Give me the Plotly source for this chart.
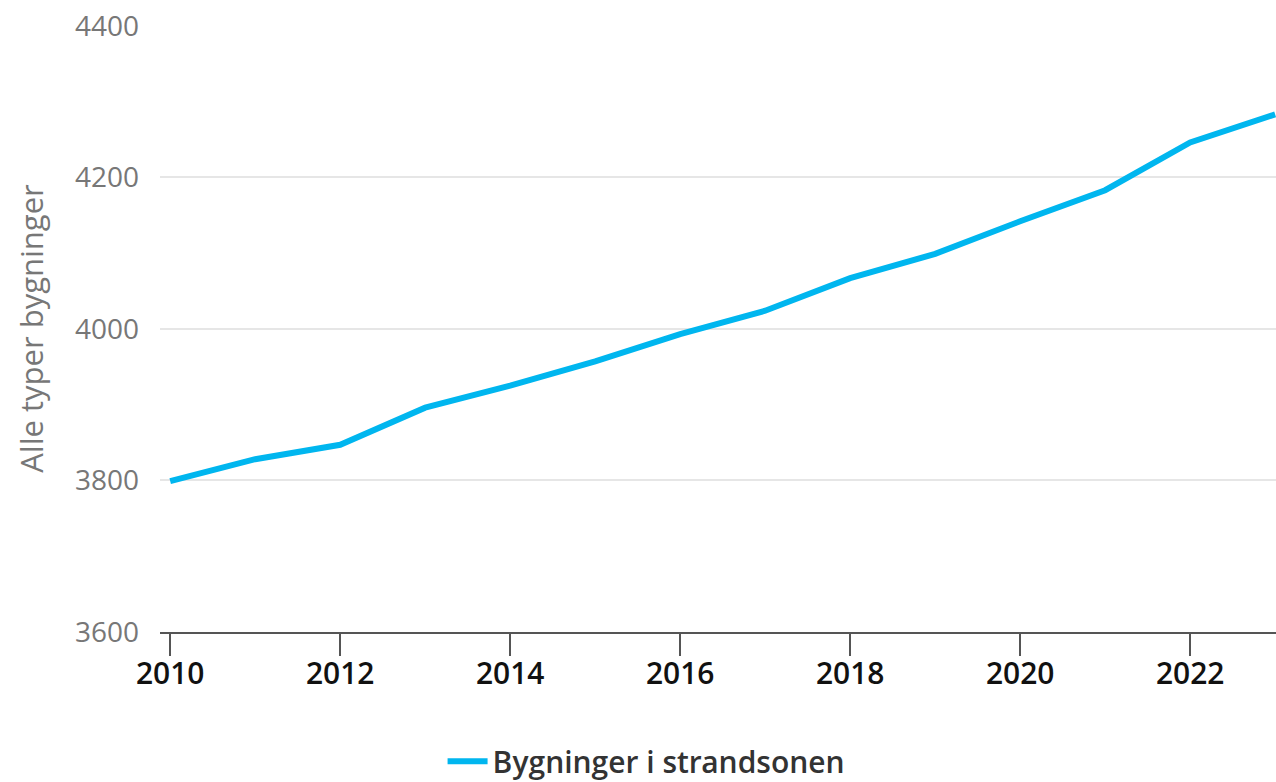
import plotly.graph_objects as go

years = [2010, 2011, 2012, 2013, 2014, 2015, 2016, 2017, 2018, 2019, 2020, 2021, 2022, 2023]
buildings = [3799, 3828, 3847, 3896, 3925, 3957, 3993, 4024, 4067, 4099, 4142, 4183, 4246, 4283]
series_name = "Bygninger i strandsonen"
y_title = "Alle typer bygninger"
y_ticks = [3600, 3800, 4000, 4200, 4400]
x_ticks = [2010, 2012, 2014, 2016, 2018, 2020, 2022]

fig = go.Figure()
fig.add_trace(go.Scatter(
    x=years, y=buildings, mode="lines", name=series_name,
    line=dict(color="#00b6ef", width=6),
))

fig.update_layout(
    width=1276, height=782,
    paper_bgcolor="white", plot_bgcolor="white",
    margin=dict(l=160, r=0, t=25, b=150, autoexpand=False),
    font=dict(family="Open Sans, DejaVu Sans, sans-serif"),
    showlegend=True,
    legend=dict(
        orientation="h", x=0.436, xanchor="center", y=-0.213, yanchor="middle",
        font=dict(size=30, color="#333333", family="Open Sans SemiBold, Open Sans, sans-serif"),
        itemwidth=40,
    ),
    xaxis=dict(
        range=[2009.88, 2023.01], tickvals=x_ticks, ticktext=[str(v) for v in x_ticks],
        showgrid=False, showline=True, linecolor="#555555", linewidth=2,
        ticks="outside", ticklen=22, tickwidth=2, tickcolor="#555555",
        ticklabelstandoff=-8,
        tickfont=dict(size=30, color="#111111", family="Open Sans SemiBold, Open Sans, sans-serif"),
        zeroline=False,
    ),
    yaxis=dict(
        range=[3600, 4401], tickvals=y_ticks,
        showgrid=True, gridcolor="#e6e6e6", gridwidth=2,
        tickfont=dict(size=28, color="#777777"),
        ticklabelstandoff=20,
        title=dict(text=y_title, font=dict(size=31, color="#777777"), standoff=22),
        zeroline=False, showline=False,
    ),
)

fig.write_html(
    "out.html",
    config={"displayModeBar": False},
    post_script="document.body.style.margin='0';document.body.style.overflow='hidden';",
)
